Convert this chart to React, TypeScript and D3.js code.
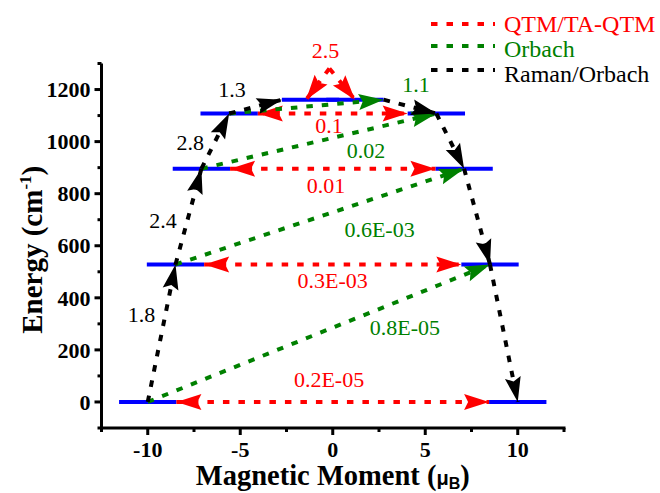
import * as d3 from "d3";

// doublet levels (energy in cm-1, magnetic moment in muB)
const levelEnergy = [0, 528, 896, 1108, 1161];
const levelMoment = [10, 8.5, 7.1, 5.6, 1.2];
const levelHalf = 1.55;

// transition rates
const qtmRates = ["0.2E-05", "0.3E-03", "0.01", "0.1"];
const topQtmRate = "2.5";
const orbachRates = ["0.8E-05", "0.6E-03", "0.02", "1.1"];
const ramanRates = ["1.8", "2.4", "2.8", "1.3"];

// where the rate labels sit, in data units [moment, energy]
const qtmLabelAt = [[-0.2, 56], [0, 436], [-0.36, 801], [-0.2, 1032]];
const topQtmLabelAt = [-0.39, 1320];
const orbachLabelAt = [[3.9, 256], [2.53, 632], [1.8, 936], [4.5, 1190]];
const ramanLabelAt = [[-10.34, 306], [-9.17, 670], [-7.7, 966], [-5.44, 1170]];

// the QTM arrow over the top doublet: peak and the two tips
const topQtmPeak = [-0.18, 1281];
const topQtmTips = [-1.44, 1.2];

const legendNames = ["QTM/TA-QTM", "Orbach", "Raman/Orbach"];

const xTicks = [-10, -5, 0, 5, 10];
const xMinor = [-12.5, -7.5, -2.5, 2.5, 7.5, 12.5];
const yTicks = [0, 200, 400, 600, 800, 1000, 1200];
const yMinor = [-100, 100, 300, 500, 700, 900, 1100, 1300];

const RED = "#ff0000";
const GREEN = "#008000";
const BLACK = "#000000";
const BLUE = "#0000ff";
const serif = "'Times New Roman', 'Liberation Serif', Times, serif";
const sans = "Arial, 'Liberation Sans', sans-serif";
const DASH = "6.5 9";

const width = 660;
const height = 493;

function head(x1: number, y1: number, x2: number, y2: number, len = 25, hw = 8) {
  const dx = x2 - x1;
  const dy = y2 - y1;
  const d = Math.hypot(dx, dy);
  const ux = dx / d;
  const uy = dy / d;
  const bx = x2 - ux * len;
  const by = y2 - uy * len;
  const nx = bx + ux * 4;
  const ny = by + uy * 4;
  return [
    [x2, y2],
    [bx - uy * hw, by + ux * hw],
    [nx, ny],
    [bx + uy * hw, by - ux * hw],
  ]
    .map((p) => p.join(","))
    .join(" ");
}

function Arrow({ from, to, color, both = false }: any) {
  const [x1, y1] = from;
  const [x2, y2] = to;
  return (
    <g>
      <line x1={x1} y1={y1} x2={x2} y2={y2} stroke={color} strokeWidth={4} strokeDasharray={DASH} />
      <polygon points={head(x1, y1, x2, y2)} fill={color} />
      {both && <polygon points={head(x2, y2, x1, y1)} fill={color} />}
    </g>
  );
}

export default function App() {
  const x = d3.scaleLinear().domain([-12.5, 12.5]).range([101.5, 564]);
  const y = d3.scaleLinear().domain([-100, 1300]).range([428, 63.5]);
  const P = (m: number, e: number) => [x(m), y(e)];

  const top = levelEnergy.length - 1;

  // Raman/Orbach path: up the left side, down the right side
  const ramanUp = d3.range(top).map((i) => ({
    from: P(-levelMoment[i], levelEnergy[i]),
    to: i + 1 === top ? P(-(levelMoment[top] + levelHalf), levelEnergy[top]) : P(-levelMoment[i + 1], levelEnergy[i + 1]),
  }));
  const ramanDown = d3.range(top).map((i) => ({
    from: i + 1 === top ? P(levelMoment[top] + levelHalf, levelEnergy[top]) : P(levelMoment[i + 1], levelEnergy[i + 1]),
    to: P(levelMoment[i], levelEnergy[i]),
  }));
  const orbach = d3.range(top).map((i) => ({
    from: P(-levelMoment[i], levelEnergy[i]),
    to: i + 1 === top ? P(levelMoment[top] + levelHalf, levelEnergy[top]) : P(levelMoment[i + 1], levelEnergy[i + 1]),
  }));
  const qtm = d3.range(top).map((i) => ({
    from: P(-(levelMoment[i] - levelHalf), levelEnergy[i]),
    to: P(levelMoment[i] - levelHalf, levelEnergy[i]),
  }));

  const peak = P(topQtmPeak[0], topQtmPeak[1]);
  const legendColors = [RED, GREEN, BLACK];
  const serifStyle = { fontFamily: serif };
  const sansStyle = { fontFamily: sans };

  return (
    <svg width={width} height={height} style={{ position: "absolute", left: 0, top: 0, background: "#fff" }}>
      {/* levels */}
      {levelEnergy.map((e, i) => (
        <g key={"lv" + i}>
          <line x1={x(-levelMoment[i] - levelHalf)} x2={x(-levelMoment[i] + levelHalf)} y1={y(e)} y2={y(e)} stroke={BLUE} strokeWidth={4} />
          <line x1={x(levelMoment[i] - levelHalf)} x2={x(levelMoment[i] + levelHalf)} y1={y(e)} y2={y(e)} stroke={BLUE} strokeWidth={4} />
        </g>
      ))}

      {qtm.map((a, i) => (
        <Arrow key={"q" + i} from={a.from} to={a.to} color={RED} both />
      ))}
      {topQtmTips.map((t, i) => (
        <Arrow key={"tq" + i} from={peak} to={P(t, levelEnergy[top])} color={RED} />
      ))}
      {orbach.map((a, i) => (
        <Arrow key={"o" + i} from={a.from} to={a.to} color={GREEN} />
      ))}
      {ramanUp.concat(ramanDown).map((a, i) => (
        <Arrow key={"r" + i} from={a.from} to={a.to} color={BLACK} />
      ))}

      {/* rate labels */}
      <g style={serifStyle} fontSize={22} textAnchor="middle">
        {qtmRates.map((t, i) => (
          <text key={"ql" + i} x={x(qtmLabelAt[i][0])} y={y(qtmLabelAt[i][1])} fill={RED}>{t}</text>
        ))}
        <text x={x(topQtmLabelAt[0])} y={y(topQtmLabelAt[1])} fill={RED}>{topQtmRate}</text>
        {orbachRates.map((t, i) => (
          <text key={"ol" + i} x={x(orbachLabelAt[i][0])} y={y(orbachLabelAt[i][1])} fill={GREEN}>{t}</text>
        ))}
        {ramanRates.map((t, i) => (
          <text key={"rl" + i} x={x(ramanLabelAt[i][0])} y={y(ramanLabelAt[i][1])} fill={BLACK}>{t}</text>
        ))}
      </g>

      {/* axes */}
      <g stroke={BLACK} strokeWidth={3}>
        <line x1={x(-12.5) - 1.5} x2={x(12.5) + 1.5} y1={y(-100)} y2={y(-100)} />
        <line x1={x(-12.5)} x2={x(-12.5)} y1={y(-100)} y2={y(1300)} />
        {xTicks.map((t) => (
          <line key={"xt" + t} x1={x(t)} x2={x(t)} y1={y(-100)} y2={y(-100) + 7} />
        ))}
        {xMinor.map((t) => (
          <line key={"xm" + t} x1={x(t)} x2={x(t)} y1={y(-100)} y2={y(-100) + 4} />
        ))}
        {yTicks.map((t) => (
          <line key={"yt" + t} x1={x(-12.5) - 7} x2={x(-12.5)} y1={y(t)} y2={y(t)} />
        ))}
        {yMinor.map((t) => (
          <line key={"ym" + t} x1={x(-12.5) - 4} x2={x(-12.5)} y1={y(t)} y2={y(t)} />
        ))}
      </g>
      <g style={serifStyle} fontSize={22} fontWeight="bold">
        {xTicks.map((t) => (
          <text key={"xl" + t} x={x(t)} y={457} textAnchor="middle">{t}</text>
        ))}
        {yTicks.map((t) => (
          <text key={"yl" + t} x={x(-12.5) - 11} y={y(t)} dy="0.35em" textAnchor="end">{t}</text>
        ))}
      </g>

      <text x={(x(-12.5) + x(12.5)) / 2} y={485} textAnchor="middle" style={serifStyle} fontWeight="bold" fontSize={28.5}>
        Magnetic Moment (
        <tspan style={sansStyle} fontSize={20}>μ</tspan>
        <tspan style={sansStyle} fontSize={16} dy={4}>B</tspan>
        <tspan dy={-4}>)</tspan>
      </text>
      <text transform={`translate(42,${(y(-100) + y(1300)) / 2 + 4}) rotate(-90)`} textAnchor="middle" style={serifStyle} fontWeight="bold" fontSize={29}>
        Energy (cm
        <tspan fontSize={17} dy={-11}>-1</tspan>
        <tspan dy={11}>)</tspan>
      </text>

      {/* legend */}
      {legendNames.map((name, i) => (
        <g key={"lg" + i}>
          <line x1={431} x2={495} y1={[24, 46, 70][i]} y2={[24, 46, 70][i]} stroke={legendColors[i]} strokeWidth={4} strokeDasharray={DASH} />
          <text x={504} y={[32, 57, 82][i]} style={serifStyle} fontSize={24} fill={legendColors[i]}>{name}</text>
        </g>
      ))}
    </svg>
  );
}
